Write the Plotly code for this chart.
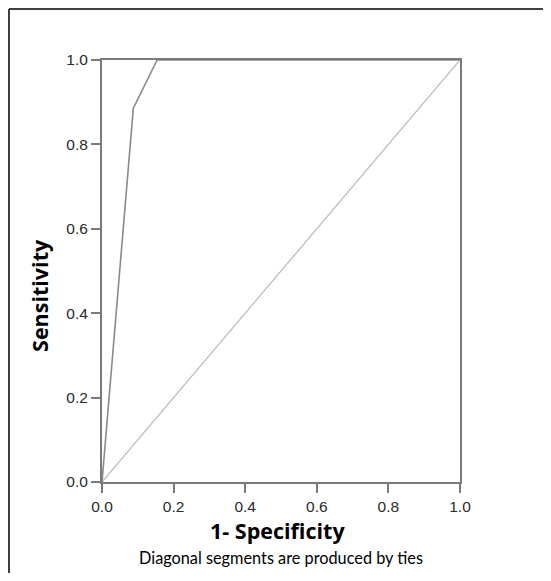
import plotly.graph_objects as go

# ROC curve data
fpr = [0.0, 0.0875, 0.154, 1.0]
tpr = [0.0, 0.886, 1.0, 1.0]
ref_x = [0.0, 1.0]
ref_y = [0.0, 1.0]
tick_vals = [0.0, 0.2, 0.4, 0.6, 0.8, 1.0]
tick_text = ["0.0", "0.2", "0.4", "0.6", "0.8", "1.0"]

fig = go.Figure()
fig.add_trace(go.Scatter(x=ref_x, y=ref_y, mode="lines",
                         line=dict(color="#bdbdbd", width=1.3), hoverinfo="skip"))
fig.add_trace(go.Scatter(x=fpr, y=tpr, mode="lines",
                         line=dict(color="#8a8a8a", width=1.6), hoverinfo="skip"))

axis_common = dict(
    range=[0, 1], tickvals=tick_vals, ticktext=tick_text,
    showgrid=False, zeroline=False,
    showline=True, linecolor="#7a7a7a", linewidth=2, mirror=True,
    ticks="outside", ticklen=9, tickwidth=2, tickcolor="#7a7a7a",
    tickfont=dict(family="Liberation Sans, Arial", size=15.5, color="#2a2a2a"),
)

title_font = dict(family="Open Sans", size=21.5, color="black")

fig.update_layout(
    width=535, height=565,
    margin=dict(l=94, r=83, t=52, b=91),
    paper_bgcolor="white", plot_bgcolor="white",
    showlegend=False,
    xaxis=dict(**axis_common),
    yaxis=dict(**axis_common),
    annotations=[
        dict(text="<b>1- Specificity</b>", xref="paper", yref="paper",
             x=0.489, y=-0.116, xanchor="center", yanchor="middle",
             showarrow=False, font=title_font),
        dict(text="<b>Sensitivity</b>", xref="paper", yref="paper",
             x=-0.173, y=0.441, xanchor="center", yanchor="middle",
             textangle=-90, showarrow=False, font=title_font),
        dict(text="Diagonal segments are produced by ties",
             xref="paper", yref="paper", x=0.5, y=-0.18,
             xanchor="center", yanchor="middle", showarrow=False,
             font=dict(family="Lato, Open Sans", size=16.3, color="black")),
    ],
    shapes=[
        dict(type="line", xref="paper", yref="paper", x0=-0.2598, x1=-0.2598,
             y0=1.1209, y1=-0.3, line=dict(color="black", width=1.5)),
        dict(type="line", xref="paper", yref="paper", x0=-0.2598, x1=1.3,
             y0=1.1209, y1=1.1209, line=dict(color="black", width=1.5)),
    ],
)

fig.write_html("out.html")
